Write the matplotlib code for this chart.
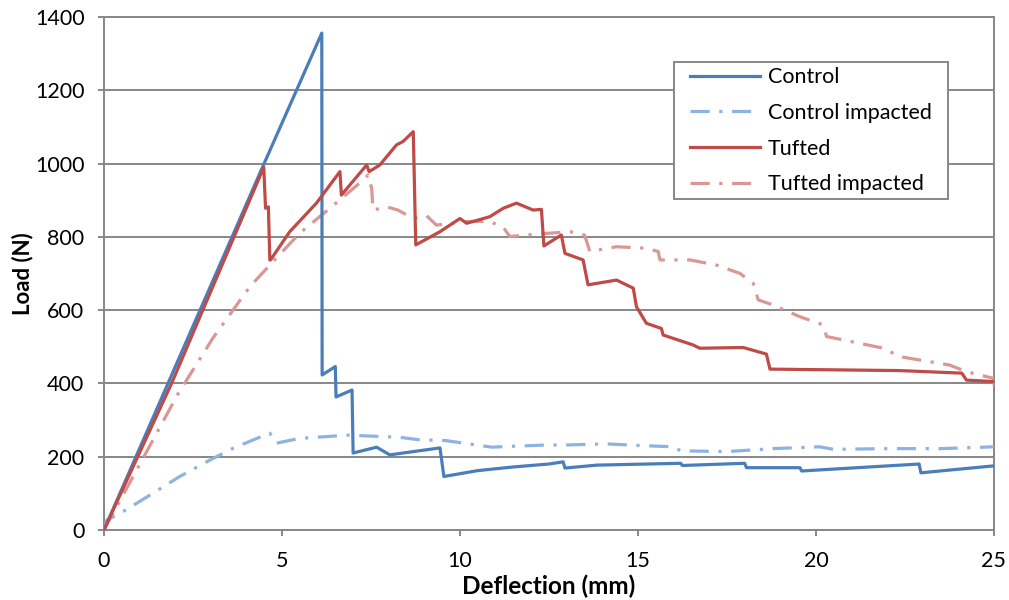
"""Load-deflection curves: control vs tufted, intact and impacted."""
import matplotlib
matplotlib.use("Agg")
import matplotlib.pyplot as plt
from matplotlib.path import Path

plt.rcParams["font.family"] = ["Lato", "DejaVu Sans"]

# Control (solid blue)
control_x = [0, 1.8, 4.5, 6.12, 6.13, 6.5, 6.52, 6.97, 7.0,
             7.66, 8.03, 9.44, 9.55, 10.5, 11.5, 12.5, 12.9, 12.95, 13.85, 16.2, 16.25,
             18.0, 18.05, 19.55, 19.6, 22.9, 22.95, 25]
control_y = [0, 400, 1000, 1356, 423, 446, 363, 382, 210,
             226, 205, 224, 146, 162, 172, 180, 186, 169, 177, 182, 176,
             182, 170, 170, 161, 180, 156, 175]

# Control impacted (light blue dash-dot)
ctrl_imp_x = [0, 0.08, 0.45, 1.29, 2.13, 2.98, 3.63, 4.57, 4.66, 4.85, 5.5, 6.44, 6.8,
              8.3, 8.87, 9.6, 10.9, 11.6, 12.5, 13.0, 14.1, 15.2, 16.0, 16.2, 17.5,
              18.8, 20.1, 20.5, 22.0, 23.5, 25]
ctrl_imp_y = [0, 27, 45, 95, 146, 191, 223, 261, 264, 237, 250, 256, 259,
              253, 246, 244, 226, 229, 232, 232, 235, 230, 227, 216, 214,
              222, 227, 220, 222, 222, 227]

# Tufted (solid red)
tufted_x = [0, 1.9, 4.49, 4.54, 4.62, 4.66, 4.68, 5.22, 5.97, 6.63,
            6.67, 7.38, 7.45, 7.75, 8.22, 8.4, 8.69, 8.76, 9.44, 10.0, 10.19, 10.84,
            11.22, 11.59, 12.06, 12.29, 12.36, 12.62, 12.85, 12.95, 13.46, 13.6, 14.4,
            14.87, 14.96, 15.24, 15.66, 15.71, 16.55, 16.74, 17.96, 18.61, 18.71,
            22.36, 24.1, 24.23, 25]
tufted_y = [0, 400, 990, 878, 882, 737, 737, 814, 892, 978,
            914, 996, 978, 996, 1051, 1060, 1087, 778, 814, 850, 837, 855,
            878, 892, 873, 875, 775, 791, 805, 755, 737, 669, 682,
            660, 609, 564, 550, 532, 505, 496, 498, 480, 439,
            435, 428, 409, 405]

# Tufted impacted (light red dash-dot)
tuft_imp_x = [0, 1.05, 2.09, 3.07, 4.1, 4.66, 5.5, 6.63, 7.28, 7.42, 7.52,
              7.56, 7.94, 8.26, 8.69, 9.06, 9.34, 10.19, 10.84, 11.22, 11.4, 12.25,
              13.1, 13.5, 13.65, 14.4, 15.24, 15.57, 15.62, 16.46, 17.21, 17.87,
              18.24, 18.38, 18.8, 19.55, 20.2, 20.3, 21.9, 22.36, 23.76, 24.23,
              24.98, 25.05]
tuft_imp_y = [0, 187, 373, 525, 664, 723, 810, 901, 955, 969, 933,
              873, 882, 873, 850, 858, 832, 842, 842, 826, 801, 808,
              814, 805, 760, 773, 769, 760, 737, 737, 723, 700,
              673, 628, 614, 582, 560, 528, 496, 473, 450, 432,
              414, 370]

GRID = "#878787"
DASHDOT = (0, (6, 3, 1, 3))


def wide_box(x0, y0, width, height, mutation_size):
    # legend frame with a bit more room left and right than top and bottom
    dx = 0.53 * mutation_size
    return Path([(x0 - dx, y0), (x0 + width + dx, y0),
                 (x0 + width + dx, y0 + height), (x0 - dx, y0 + height),
                 (x0 - dx, y0)], closed=True)


def main():
    fig = plt.figure(figsize=(10.09, 6.0), dpi=100)
    ax = fig.add_axes([0.103, 0.1167, 0.882, 0.855])

    ax.plot(control_x, control_y, color="#4a7ebb", lw=2.3, label="Control",
            zorder=4)
    ax.plot(ctrl_imp_x, ctrl_imp_y, color="#8db3e2", lw=2.3,
            linestyle=DASHDOT, label="Control impacted", zorder=3)
    ax.plot(tufted_x, tufted_y, color="#be4b48", lw=2.3, label="Tufted",
            zorder=4)
    ax.plot(tuft_imp_x, tuft_imp_y, color="#d99795", lw=2.3,
            linestyle=DASHDOT, label="Tufted impacted", zorder=3)

    ax.set_xlim(0, 25)
    ax.set_ylim(0, 1400)
    ax.set_xticks(range(0, 26, 5))
    ax.set_yticks(range(0, 1401, 200))
    ax.yaxis.grid(True, color=GRID, lw=1.4)
    ax.set_axisbelow(True)
    for side in ax.spines.values():
        side.set_color(GRID)
        side.set_linewidth(1.4)
    ax.tick_params(axis="both", colors=GRID, labelcolor="black",
                   labelsize=15.5, length=4, width=1.4, direction="out")
    ax.tick_params(axis="y", pad=10)
    ax.tick_params(axis="x", pad=11)

    ax.set_xlabel("Deflection (mm)", fontsize=17.5, fontweight="bold", labelpad=3)
    ax.set_ylabel("Load (N)", fontsize=16, fontweight="bold", labelpad=1)

    leg = ax.legend(loc="upper right", bbox_to_anchor=(0.9354, 0.912),
                    fontsize=15.5, handlelength=3.25, handletextpad=0.33,
                    borderpad=0.23, borderaxespad=0, labelspacing=0.73,
                    fancybox=False, framealpha=1, edgecolor=GRID)
    leg.get_frame().set_linewidth(1.4)
    leg.get_frame().set_boxstyle(wide_box)

    fig.savefig("out.png", dpi=100, facecolor="white")
    plt.close(fig)


if __name__ == "__main__":
    main()
